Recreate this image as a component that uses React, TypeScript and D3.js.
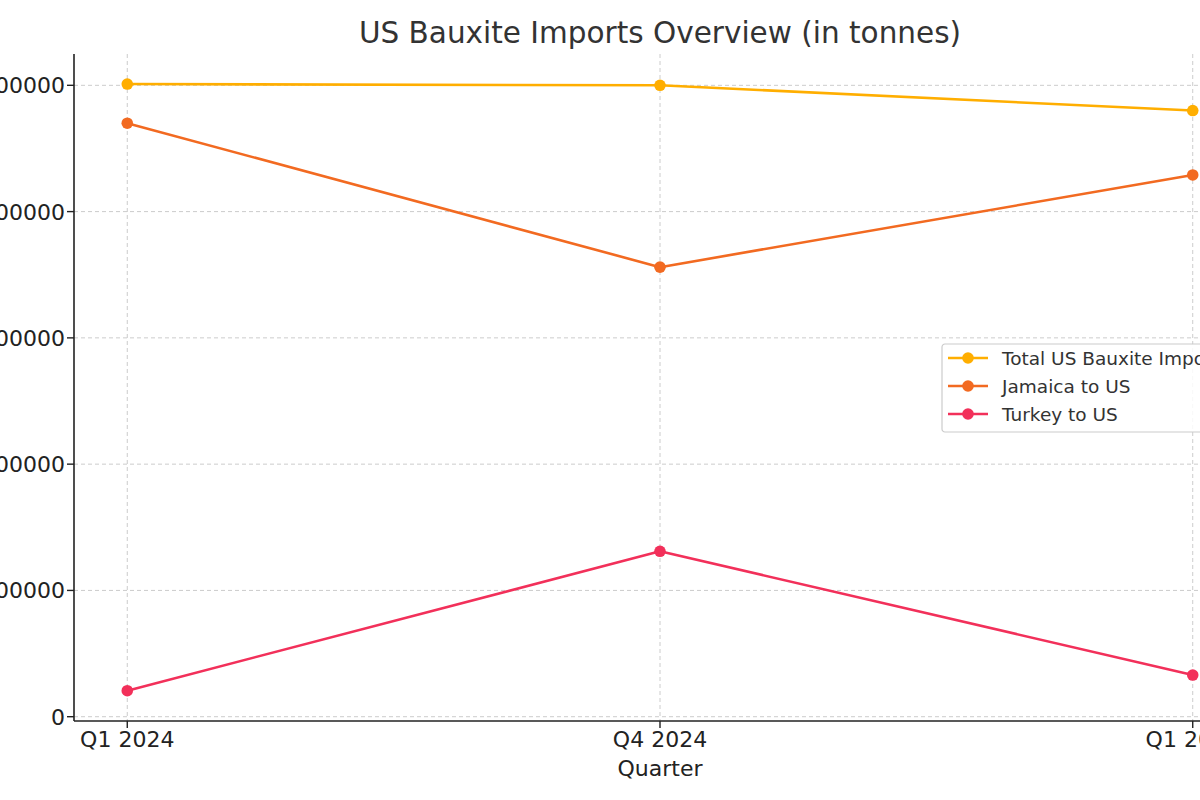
import { useEffect, useRef } from 'react';
import * as d3 from 'd3';

const quarters = ['Q1 2024', 'Q4 2024', 'Q1 2025'];
const totalImports = [5010000, 5000000, 4800000];
const jamaicaImports = [4700000, 3560000, 4290000];
const turkeyImports = [206000, 1310000, 330000];
const yTicks = [0, 1000000, 2000000, 3000000, 4000000, 5000000];

const seriesNames = ['Total US Bauxite Imports', 'Jamaica to US', 'Turkey to US'];
const seriesColors = ['#FFAE00', '#F26A21', '#F2305A'];

const width = 1200;
const height = 800;
const plot = { left: 74, right: 1246, top: 54, bottom: 721 };

export default function App() {
  const svgRef = useRef<SVGSVGElement>(null);

  useEffect(() => {
    document.body.style.margin = '0';
    if (!svgRef.current) return;
    const svg = d3.select(svgRef.current);
    svg.selectAll('*').remove();

    const x = d3.scaleLinear().domain([-0.1, 2.1]).range([plot.left, plot.right]);
    const yMin = -0.034e6;
    const yMax = 5.248e6;
    const y = d3.scaleLinear().domain([yMin, yMax]).range([plot.bottom, plot.top]);

    const font = 'DejaVu Sans, sans-serif';

    // grid
    const grid = svg.append('g');
    grid
      .selectAll('line.gx')
      .data(quarters)
      .join('line')
      .attr('x1', (_, i) => x(i))
      .attr('x2', (_, i) => x(i))
      .attr('y1', plot.top)
      .attr('y2', plot.bottom)
      .attr('stroke', '#cccccc')
      .attr('stroke-width', 1)
      .attr('stroke-dasharray', '4,3');
    grid
      .selectAll('line.gy')
      .data(yTicks)
      .join('line')
      .attr('x1', plot.left)
      .attr('x2', plot.right)
      .attr('y1', (d) => y(d))
      .attr('y2', (d) => y(d))
      .attr('stroke', '#cccccc')
      .attr('stroke-width', 1)
      .attr('stroke-dasharray', '4,3');

    // series
    const allSeries = [totalImports, jamaicaImports, turkeyImports];
    const line = d3
      .line<number>()
      .x((_, i) => x(i))
      .y((d) => y(d));

    allSeries.forEach((values, s) => {
      svg
        .append('path')
        .datum(values)
        .attr('d', line)
        .attr('fill', 'none')
        .attr('stroke', seriesColors[s])
        .attr('stroke-width', 2.6)
        .attr('stroke-linejoin', 'round');
      svg
        .append('g')
        .selectAll('circle')
        .data(values)
        .join('circle')
        .attr('cx', (_, i) => x(i))
        .attr('cy', (d) => y(d))
        .attr('r', 5.8)
        .attr('fill', seriesColors[s]);
    });

    // spines
    svg
      .append('line')
      .attr('x1', plot.left)
      .attr('x2', plot.left)
      .attr('y1', plot.top)
      .attr('y2', plot.bottom)
      .attr('stroke', '#222')
      .attr('stroke-width', 1.6);
    svg
      .append('line')
      .attr('x1', plot.left)
      .attr('x2', plot.right)
      .attr('y1', plot.bottom)
      .attr('y2', plot.bottom)
      .attr('stroke', '#222')
      .attr('stroke-width', 1.6);

    // y ticks
    const yAxis = svg.append('g');
    yTicks.forEach((t) => {
      yAxis
        .append('line')
        .attr('x1', plot.left - 7)
        .attr('x2', plot.left)
        .attr('y1', y(t))
        .attr('y2', y(t))
        .attr('stroke', '#222')
        .attr('stroke-width', 1.4);
      yAxis
        .append('text')
        .attr('x', plot.left - 9)
        .attr('y', y(t))
        .attr('dy', '0.36em')
        .attr('text-anchor', 'end')
        .attr('font-family', font)
        .attr('font-size', 22)
        .attr('fill', '#222')
        .text(String(t));
    });

    // x ticks
    const xAxis = svg.append('g');
    quarters.forEach((q, i) => {
      xAxis
        .append('line')
        .attr('x1', x(i))
        .attr('x2', x(i))
        .attr('y1', plot.bottom)
        .attr('y2', plot.bottom + 7)
        .attr('stroke', '#222')
        .attr('stroke-width', 1.4);
      xAxis
        .append('text')
        .attr('x', x(i))
        .attr('y', plot.bottom + 26)
        .attr('text-anchor', 'middle')
        .attr('font-family', font)
        .attr('font-size', 22)
        .attr('fill', '#222')
        .text(q);
    });

    svg
      .append('text')
      .attr('x', (plot.left + plot.right) / 2)
      .attr('y', 776)
      .attr('text-anchor', 'middle')
      .attr('font-family', font)
      .attr('font-size', 22)
      .attr('fill', '#222')
      .text('Quarter');

    svg
      .append('text')
      .attr('x', (plot.left + plot.right) / 2)
      .attr('y', 43)
      .attr('text-anchor', 'middle')
      .attr('font-family', font)
      .attr('font-size', 29.5)
      .attr('fill', '#333')
      .text('US Bauxite Imports Overview (in tonnes)');

    // legend
    const legend = svg.append('g').attr('transform', 'translate(942,344)');
    legend
      .append('rect')
      .attr('x', 0)
      .attr('y', 0)
      .attr('width', 310)
      .attr('height', 88)
      .attr('rx', 3)
      .attr('fill', 'rgba(255,255,255,0.85)')
      .attr('stroke', '#cccccc')
      .attr('stroke-width', 1.2);
    seriesNames.forEach((name, i) => {
      const cy = 14 + i * 28;
      legend
        .append('line')
        .attr('x1', 6)
        .attr('x2', 46)
        .attr('y1', cy)
        .attr('y2', cy)
        .attr('stroke', seriesColors[i])
        .attr('stroke-width', 2.6);
      legend
        .append('circle')
        .attr('cx', 26)
        .attr('cy', cy)
        .attr('r', 5.8)
        .attr('fill', seriesColors[i]);
      legend
        .append('text')
        .attr('x', 60)
        .attr('y', cy)
        .attr('dy', '0.36em')
        .attr('font-family', font)
        .attr('font-size', 18.5)
        .attr('fill', '#333')
        .text(name);
    });
  }, []);

  return (
    <svg
      ref={svgRef}
      width={width}
      height={height}
      style={{ display: 'block', position: 'absolute', left: 0, top: 0, background: '#fff' }}
    />
  );
}
